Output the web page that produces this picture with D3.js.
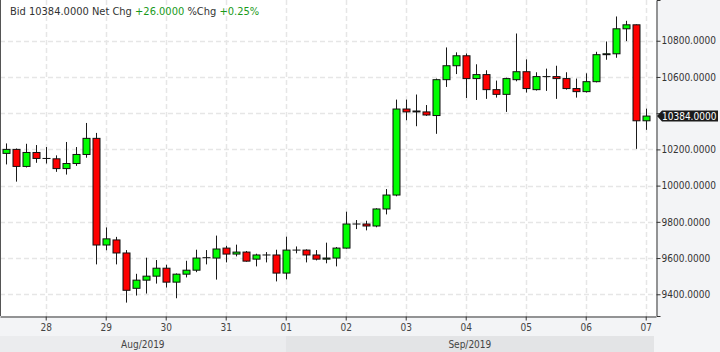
<!DOCTYPE html>
<html>
<head>
<meta charset="utf-8">
<script src="https://cdn.jsdelivr.net/npm/d3@7"></script>
<style>
  body { margin: 0; background: #f3f4f6; }
  svg { display: block; font-family: "DejaVu Sans Condensed", "DejaVu Sans", sans-serif; }
</style>
</head>
<body>
<div id="chart"></div>
<script>
// 4-hour candles, BTC bid, Aug 27 08:00 -> Sep 7 00:00 (UTC)
const firstBar = Date.UTC(2019, 7, 27, 8);
const barHours = 4;

const openVals = [10178, 10200, 10106, 10183, 10150, 10148, 10094, 10122, 10172, 10261,
  9672, 9700, 9628, 9433, 9478, 9500, 9544, 9467, 9511, 9533,
  9602, 9600, 9655, 9622, 9633, 9594, 9617, 9617, 9517, 9644,
  9644, 9617, 9594, 9600, 9655, 9788, 9788, 9777, 9871, 9948,
  10423, 10412, 10407, 10387, 10585, 10662, 10717, 10591, 10613, 10530,
  10504, 10585, 10629, 10530, 10602, 10602, 10591, 10536, 10519, 10574,
  10723, 10728, 10866, 10888, 10358];
const highVals = [10233, 10205, 10231, 10224, 10213, 10167, 10241, 10213, 10346, 10291,
  9769, 9717, 9644, 9513, 9602, 9589, 9563, 9515, 9585, 9646,
  9644, 9724, 9668, 9674, 9639, 9624, 9633, 9646, 9718, 9664,
  9648, 9644, 9685, 9661, 9856, 9810, 9806, 9875, 9981, 10475,
  10475, 10503, 10445, 10591, 10763, 10736, 10730, 10670, 10637, 10580,
  10596, 10840, 10697, 10626, 10646, 10662, 10626, 10591, 10620, 10739,
  10796, 10934, 10910, 10890, 10425];
const lowVals = [10117, 10022, 10100, 10126, 10122, 10076, 10061, 10109, 10154, 9565,
  9643, 9565, 9354, 9393, 9404, 9459, 9437, 9378, 9493, 9522,
  9565, 9481, 9576, 9609, 9580, 9554, 9576, 9471, 9482, 9626,
  9576, 9587, 9571, 9554, 9652, 9760, 9753, 9770, 9841, 9941,
  10361, 10328, 10385, 10286, 10545, 10616, 10484, 10473, 10479, 10486,
  10407, 10576, 10514, 10525, 10523, 10479, 10530, 10486, 10514, 10570,
  10695, 10706, 10798, 10203, 10308];
const closeVals = [10200, 10106, 10183, 10150, 10150, 10094, 10122, 10172, 10261, 9672,
  9706, 9628, 9422, 9478, 9500, 9544, 9467, 9511, 9533, 9600,
  9602, 9650, 9622, 9633, 9583, 9617, 9617, 9517, 9644, 9644,
  9617, 9594, 9600, 9655, 9788, 9788, 9777, 9871, 9948, 10423,
  10407, 10407, 10390, 10585, 10662, 10717, 10591, 10613, 10530, 10504,
  10591, 10629, 10536, 10602, 10602, 10591, 10536, 10519, 10574, 10723,
  10728, 10866, 10888, 10358, 10384];

const priceTicks = [9400, 9600, 9800, 10000, 10200, 10400, 10600, 10800];
const dayTicks = ["28", "29", "30", "31", "01", "02", "03", "04", "05", "06", "07"];
const monthLabels = ["Aug/2019", "Sep/2019"];
const header = [
  { text: "Bid ", cls: "lbl" }, { text: "10384.0000", cls: "lbl" },
  { text: " Net Chg ", cls: "lbl" }, { text: "+26.0000", cls: "up" },
  { text: " %Chg ", cls: "lbl" }, { text: "+0.25%", cls: "up" }
];
const lastPrice = 10384;

// Build candle records
const bars = openVals.map((o, i) => ({
  date: new Date(firstBar + i * barHours * 3600e3),
  open: o, high: highVals[i], low: lowVals[i], close: closeVals[i]
}));

const width = 720, height = 352;
const plot = { left: 0, right: 656, top: 0, bottom: 316 };

const xScale = d3.scaleUtc()
  .domain([new Date(Date.UTC(2019, 7, 27, 5, 43)), new Date(Date.UTC(2019, 8, 7, 4, 7))])
  .range([plot.left, plot.right]);

const yScale = d3.scaleLinear()
  .domain([9280, 11025])
  .range([plot.bottom, plot.top]);

const svg = d3.select("#chart").append("svg")
  .attr("width", width)
  .attr("height", height);

// panels
svg.append("rect").attr("x", 0).attr("y", 0).attr("width", width).attr("height", height).attr("fill", "#f3f4f6");
svg.append("rect")
  .attr("x", plot.left).attr("y", plot.top)
  .attr("width", plot.right - plot.left).attr("height", plot.bottom - plot.top)
  .attr("fill", "#ffffff");

// month band
const monthStarts = [xScale.domain()[0], new Date(Date.UTC(2019, 8, 1)), xScale.domain()[1]];
const monthBand = svg.append("g");
monthLabels.forEach((m, i) => {
  const x0 = xScale(monthStarts[i]), x1 = Math.min(xScale(monthStarts[i + 1]), plot.right - 2);
  monthBand.append("rect")
    .attr("x", x0).attr("y", 336).attr("width", x1 - x0).attr("height", 16)
    .attr("fill", i === 0 ? "#ebecee" : "#e3e4e6");
  monthBand.append("text")
    .attr("x", (x0 + x1) / 2).attr("y", 348)
    .attr("text-anchor", "middle")
    .attr("font-size", 10).attr("fill", "#444")
    .text(m);
});

// grid
const dayDates = d3.utcDay.range(new Date(Date.UTC(2019, 7, 28)), new Date(Date.UTC(2019, 8, 7, 1)));
const grid = svg.append("g").attr("stroke", "#e6e6e6").attr("stroke-width", 1.5).attr("stroke-dasharray", "5,3");
grid.selectAll(".vgrid").data(dayDates).enter().append("line")
  .attr("x1", d => Math.round(xScale(d)) + 0.5).attr("x2", d => Math.round(xScale(d)) + 0.5)
  .attr("y1", plot.top).attr("y2", plot.bottom);
grid.selectAll(".hgrid").data(priceTicks).enter().append("line")
  .attr("x1", plot.left).attr("x2", plot.right)
  .attr("y1", d => Math.round(yScale(d)) + 0.5).attr("y2", d => Math.round(yScale(d)) + 0.5);

// candles
const bodyW = 7;
const candle = svg.append("g").selectAll(".candle").data(bars).enter().append("g");
candle.append("line")
  .attr("x1", d => Math.round(xScale(d.date)) + 0.5)
  .attr("x2", d => Math.round(xScale(d.date)) + 0.5)
  .attr("y1", d => yScale(d.high))
  .attr("y2", d => yScale(d.low))
  .attr("stroke", "#1a1a1a")
  .attr("stroke-width", 1);
candle.append("rect")
  .attr("x", d => Math.round(xScale(d.date)) + 0.5 - bodyW / 2)
  .attr("y", d => yScale(Math.max(d.open, d.close)))
  .attr("width", bodyW)
  .attr("height", d => Math.max(Math.abs(yScale(d.open) - yScale(d.close)), 0.01))
  .attr("fill", d => d.close >= d.open ? "#00ff00" : "#ff0000")
  .attr("stroke", "#111")
  .attr("stroke-width", 1);

// plot frame
svg.append("line").attr("x1", 0.5).attr("x2", 0.5).attr("y1", plot.top).attr("y2", plot.bottom)
  .attr("stroke", "#555").attr("stroke-width", 1);

// right axis
const py = yScale(lastPrice);
const yAxis = d3.axisRight(yScale)
  .tickValues(priceTicks)
  .tickFormat(d3.format(".4f"))
  .tickSize(4)
  .tickPadding(1);
const yAxisG = svg.append("g")
  .attr("transform", `translate(${plot.right + 0.5},0)`)
  .call(yAxis);
yAxisG.select(".domain").attr("stroke", "#333");
yAxisG.selectAll(".tick line").attr("stroke", "#333");
yAxisG.selectAll(".tick text").attr("fill", "#333").attr("font-size", 10)
  .attr("font-family", "'DejaVu Sans Condensed', 'DejaVu Sans', sans-serif");
// the last-price marker covers the tick label it sits on
yAxisG.selectAll(".tick").filter(d => Math.abs(yScale(d) - py) < 9).select("text").remove();

// bottom axis
const xAxis = d3.axisBottom(xScale)
  .tickValues(dayDates)
  .tickFormat((d, i) => dayTicks[i])
  .tickSize(4)
  .tickPadding(3)
  .tickSizeOuter(0);
const xAxisG = svg.append("g")
  .attr("transform", `translate(0,${plot.bottom + 0.5})`)
  .call(xAxis);
xAxisG.select(".domain").attr("stroke", "#333");
xAxisG.selectAll(".tick line").attr("stroke", "#333");
xAxisG.selectAll(".tick text").attr("fill", "#444").attr("font-size", 10)
  .attr("font-family", "'DejaVu Sans Condensed', 'DejaVu Sans', sans-serif");

// last price marker
svg.append("path")
  .attr("d", `M${plot.right + 1},${py} L${plot.right + 6},${py - 5.5} L${width - 2},${py - 5.5} L${width - 2},${py + 5.5} L${plot.right + 6},${py + 5.5} Z`)
  .attr("fill", "#1b1b1b");
svg.append("text")
  .attr("x", plot.right + 6).attr("y", py + 3.6)
  .attr("fill", "#fff").attr("font-size", 10)
  .text(d3.format(".4f")(lastPrice));

// header
const head = svg.append("text").attr("x", 10).attr("y", 15).attr("font-size", 11);
head.selectAll("tspan").data(header).enter().append("tspan")
  .attr("fill", d => d.cls === "up" ? "#1a9a1a" : "#333")
  .style("white-space", "pre")
  .text(d => d.text);
head.attr("xml:space", "preserve");
</script>
</body>
</html>
